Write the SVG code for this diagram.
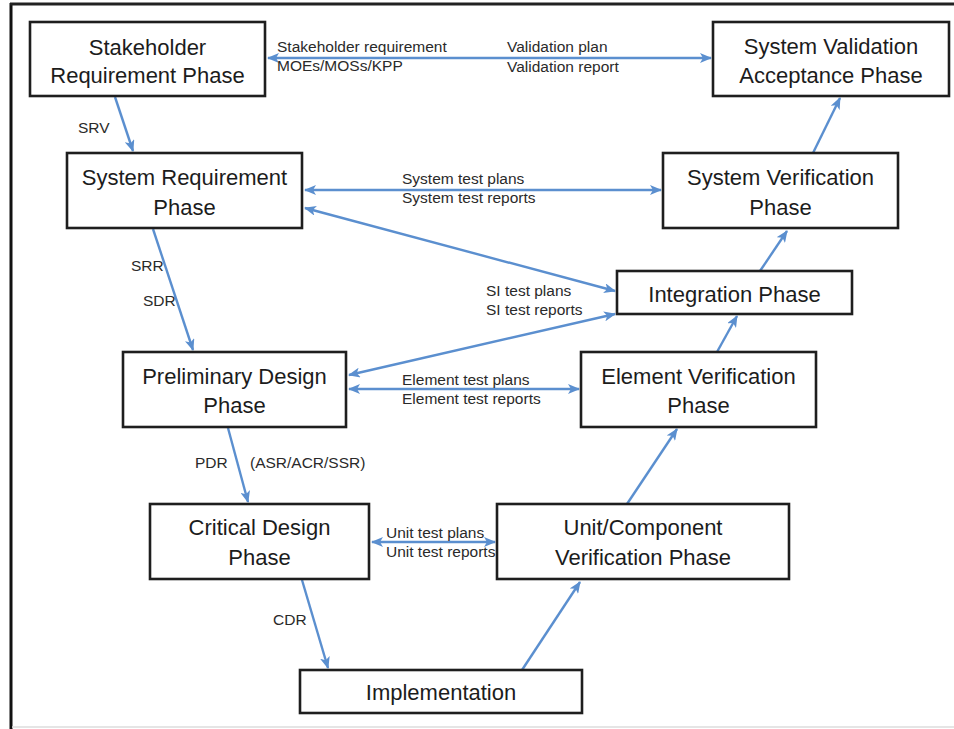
<svg xmlns="http://www.w3.org/2000/svg" width="954" height="729" viewBox="0 0 954 729">
<style>
.box{fill:#fff;stroke:#1e1e1e;stroke-width:2.6}
.nt{font-family:"Liberation Sans",Arial,sans-serif;font-size:22px;fill:#1c1c1c;text-anchor:middle}
.lb{font-family:"Liberation Sans",Arial,sans-serif;font-size:15.5px;fill:#2a2a2a}
.sl{font-family:"Liberation Sans",Arial,sans-serif;font-size:15.5px;fill:#2a2a2a}
.c{stroke:#5b8fcf;stroke-width:2.4;fill:none;marker-end:url(#ah)}
.b{marker-start:url(#ah)}
</style>
<defs>
<marker id="ah" viewBox="0 0 12 10" refX="11" refY="5" markerWidth="12" markerHeight="10" markerUnits="userSpaceOnUse" orient="auto-start-reverse">
<path d="M0,0 L12,5 L0,10 L3,5 z" fill="#5b8fcf"/>
</marker>
</defs>
<rect x="0" y="0" width="954" height="729" fill="#fff"/>
<line x1="11" y1="3" x2="11" y2="729" stroke="#111" stroke-width="3"/>
<line x1="10" y1="4" x2="954" y2="4" stroke="#222" stroke-width="3"/>
<line x1="12" y1="727" x2="954" y2="727" stroke="#ddd" stroke-width="1.5"/>

<g id="connectors">
<line class="c b" x1="268" y1="58" x2="711" y2="58"/>
<line class="c" x1="115" y1="97" x2="133" y2="151"/>
<line class="c b" x1="305" y1="190" x2="661" y2="190"/>
<line class="c b" x1="305" y1="208" x2="615" y2="291"/>
<line class="c b" x1="615" y1="314" x2="349" y2="375"/>
<line class="c b" x1="349" y1="389" x2="579" y2="389"/>
<line class="c" x1="153" y1="229" x2="193" y2="350"/>
<line class="c" x1="228" y1="428" x2="248" y2="502"/>
<line class="c" x1="302" y1="580" x2="328" y2="668"/>
<line class="c" x1="522" y1="670" x2="580" y2="582"/>
<line class="c" x1="627" y1="504" x2="677" y2="429"/>
<line class="c" x1="717" y1="352" x2="737" y2="316"/>
<line class="c" x1="760" y1="271" x2="787" y2="231"/>
<line class="c" x1="813" y1="153" x2="840" y2="98"/>
<line class="c b" x1="372" y1="542" x2="495" y2="542"/>
<text class="sl" x="277" y="52">Stakeholder requirement</text>
<text class="sl" x="277" y="71">MOEs/MOSs/KPP</text>
<text class="sl" x="507" y="52">Validation plan</text>
<text class="sl" x="507" y="72">Validation report</text>
<text class="sl" x="402" y="184">System test plans</text>
<text class="sl" x="402" y="203">System test reports</text>
<text class="sl" x="486" y="296">SI test plans</text>
<text class="sl" x="486" y="315">SI test reports</text>
<text class="sl" x="402" y="385">Element test plans</text>
<text class="sl" x="402" y="404">Element test reports</text>
<text class="sl" x="386" y="538">Unit test plans</text>
<text class="sl" x="386" y="557">Unit test reports</text>
<text class="lb" x="78" y="133">SRV</text>
<text class="lb" x="131" y="271">SRR</text>
<text class="lb" x="143" y="306">SDR</text>
<text class="lb" x="195" y="468">PDR</text>
<text class="lb" x="250" y="468">(ASR/ACR/SSR)</text>
<text class="lb" x="273" y="625">CDR</text>
</g>

<g id="stakeholder">
<rect class="box" x="30" y="22" width="235" height="74"/>
<text class="nt" x="147.5" y="55">Stakeholder</text>
<text class="nt" x="147.5" y="83">Requirement Phase</text>
</g>
<g id="sysval">
<rect class="box" x="713" y="22" width="236" height="74"/>
<text class="nt" x="831" y="54">System Validation</text>
<text class="nt" x="831" y="83">Acceptance Phase</text>
</g>
<g id="sysreq">
<rect class="box" x="67" y="153" width="235" height="75"/>
<text class="nt" x="184.5" y="185">System Requirement</text>
<text class="nt" x="184.5" y="215">Phase</text>
</g>
<g id="sysver">
<rect class="box" x="663" y="153" width="235" height="75"/>
<text class="nt" x="780.5" y="185">System Verification</text>
<text class="nt" x="780.5" y="215">Phase</text>
</g>
<g id="integration">
<rect class="box" x="617" y="271" width="235" height="43"/>
<text class="nt" x="734.5" y="302">Integration Phase</text>
</g>
<g id="element">
<rect class="box" x="581" y="352" width="235" height="75"/>
<text class="nt" x="698.5" y="384">Element Verification</text>
<text class="nt" x="698.5" y="413">Phase</text>
</g>
<g id="prelim">
<rect class="box" x="123" y="352" width="223" height="75"/>
<text class="nt" x="234.5" y="384">Preliminary Design</text>
<text class="nt" x="234.5" y="413">Phase</text>
</g>
<g id="critical">
<rect class="box" x="150" y="504" width="219" height="75"/>
<text class="nt" x="259.5" y="535">Critical Design</text>
<text class="nt" x="259.5" y="565">Phase</text>
</g>
<g id="unit">
<rect class="box" x="497" y="504" width="292" height="75"/>
<text class="nt" x="643" y="535">Unit/Component</text>
<text class="nt" x="643" y="565">Verification Phase</text>
</g>
<g id="implementation">
<rect class="box" x="300" y="670" width="282" height="43"/>
<text class="nt" x="441" y="700">Implementation</text>
</g>
</svg>
